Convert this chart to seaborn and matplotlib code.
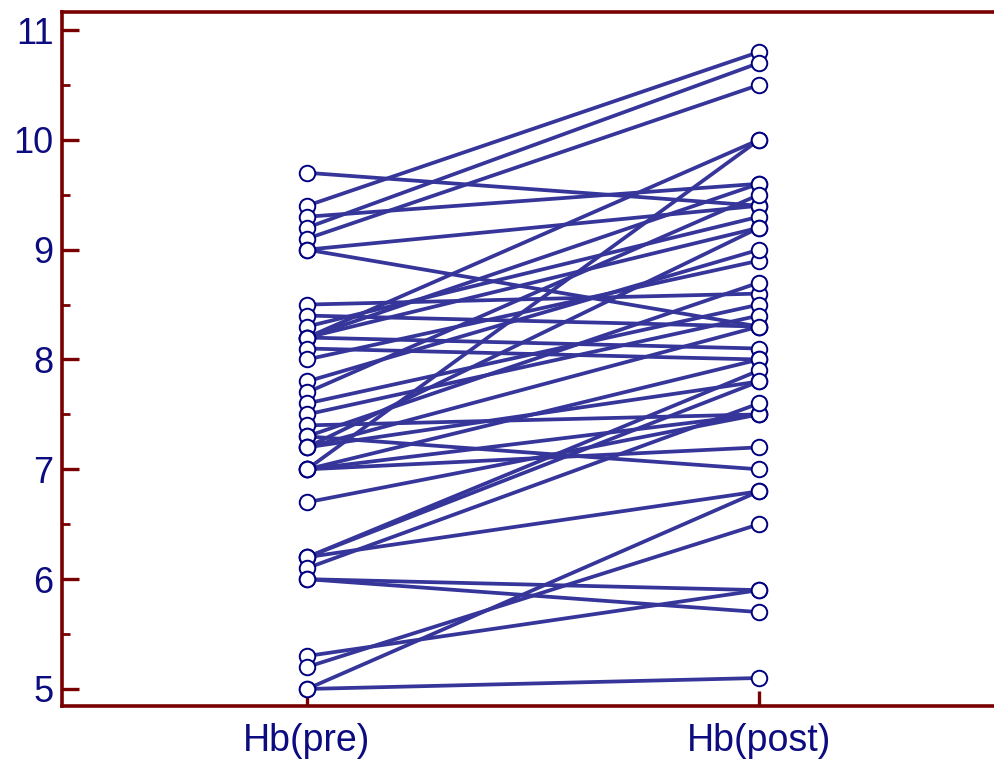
import numpy as np
import pandas as pd
import matplotlib
matplotlib.use("Agg")
import matplotlib.pyplot as plt
import seaborn as sns

categories = ["Hb(pre)", "Hb(post)"]
hb_pre = [9.7, 9.4, 9.3, 9.2, 9.1, 9.0, 9.0, 8.5, 8.4, 8.3,
          8.2, 8.2, 8.2, 8.2, 8.1, 8.0, 7.8, 7.7, 7.6, 7.5,
          7.4, 7.3, 7.3, 7.2, 7.2, 7.2, 7.0, 7.0, 7.0, 7.0,
          6.7, 6.2, 6.2, 6.2, 6.1, 6.0, 6.0, 5.3, 5.2, 5.0,
          5.0]
hb_post = [9.4, 10.8, 9.6, 10.7, 10.5, 9.4, 8.3, 8.6, 8.3, 9.3,
           10.0, 9.6, 8.1, 9.2, 8.0, 8.9, 9.0, 9.5, 8.5, 8.4,
           7.5, 8.7, 7.0, 9.2, 8.3, 7.8, 10.0, 7.2, 8.0, 7.5,
           7.5, 7.9, 7.8, 6.8, 7.6, 5.9, 5.7, 5.9, 6.5, 6.8,
           5.1]

rows = []
for i, (a, b) in enumerate(zip(hb_pre, hb_post)):
    rows.append({"subject": i, "pos": 0, "value": a})
    rows.append({"subject": i, "pos": 1, "value": b})
df = pd.DataFrame(rows)

sns.set_theme(style="white")
plt.rcParams["font.family"] = ["Liberation Sans", "DejaVu Sans"]

axis_red = "#780000"
label_blue = "#0c0c80"
line_col = "#35359a"

fig = plt.figure(figsize=(9.95, 7.65), dpi=100)
ax = fig.add_axes([62 / 995, 59 / 765, 933 / 995, 694 / 765])

sns.lineplot(data=df, x="pos", y="value", units="subject", estimator=None,
             color=line_col, linewidth=2.7, ax=ax, legend=False)
sns.scatterplot(data=df, x="pos", y="value", ax=ax, s=125, color="white",
                edgecolor="#000080", linewidth=1.4, zorder=5, legend=False,
                clip_on=False)

ax.set_xlim(-0.542, 1.522)
ax.set_ylim(4.845, 11.164)
ax.set_xticks([0, 1])
ax.set_xticklabels(categories)
ax.set_yticks(range(5, 12))
ax.set_yticks(np.arange(5.5, 11, 1.0), minor=True)
ax.set_xlabel("")
ax.set_ylabel("")

for side in ["left", "bottom", "top"]:
    ax.spines[side].set_visible(True)
    ax.spines[side].set_color(axis_red)
    ax.spines[side].set_linewidth(2.6)
ax.spines["right"].set_visible(False)

ax.tick_params(axis="y", which="major", direction="in", length=12, width=2.4,
               color=axis_red, labelcolor=label_blue, labelsize=26, pad=6,
               left=True)
ax.tick_params(axis="y", which="minor", direction="in", length=6, width=2.0,
               color=axis_red, left=True)
ax.tick_params(axis="x", which="major", direction="in", length=11, width=2.4,
               color=axis_red, labelcolor=label_blue, labelsize=27, pad=12,
               bottom=True, top=False)
ax.grid(False)

fig.savefig("out.png", dpi=100, facecolor="white")
